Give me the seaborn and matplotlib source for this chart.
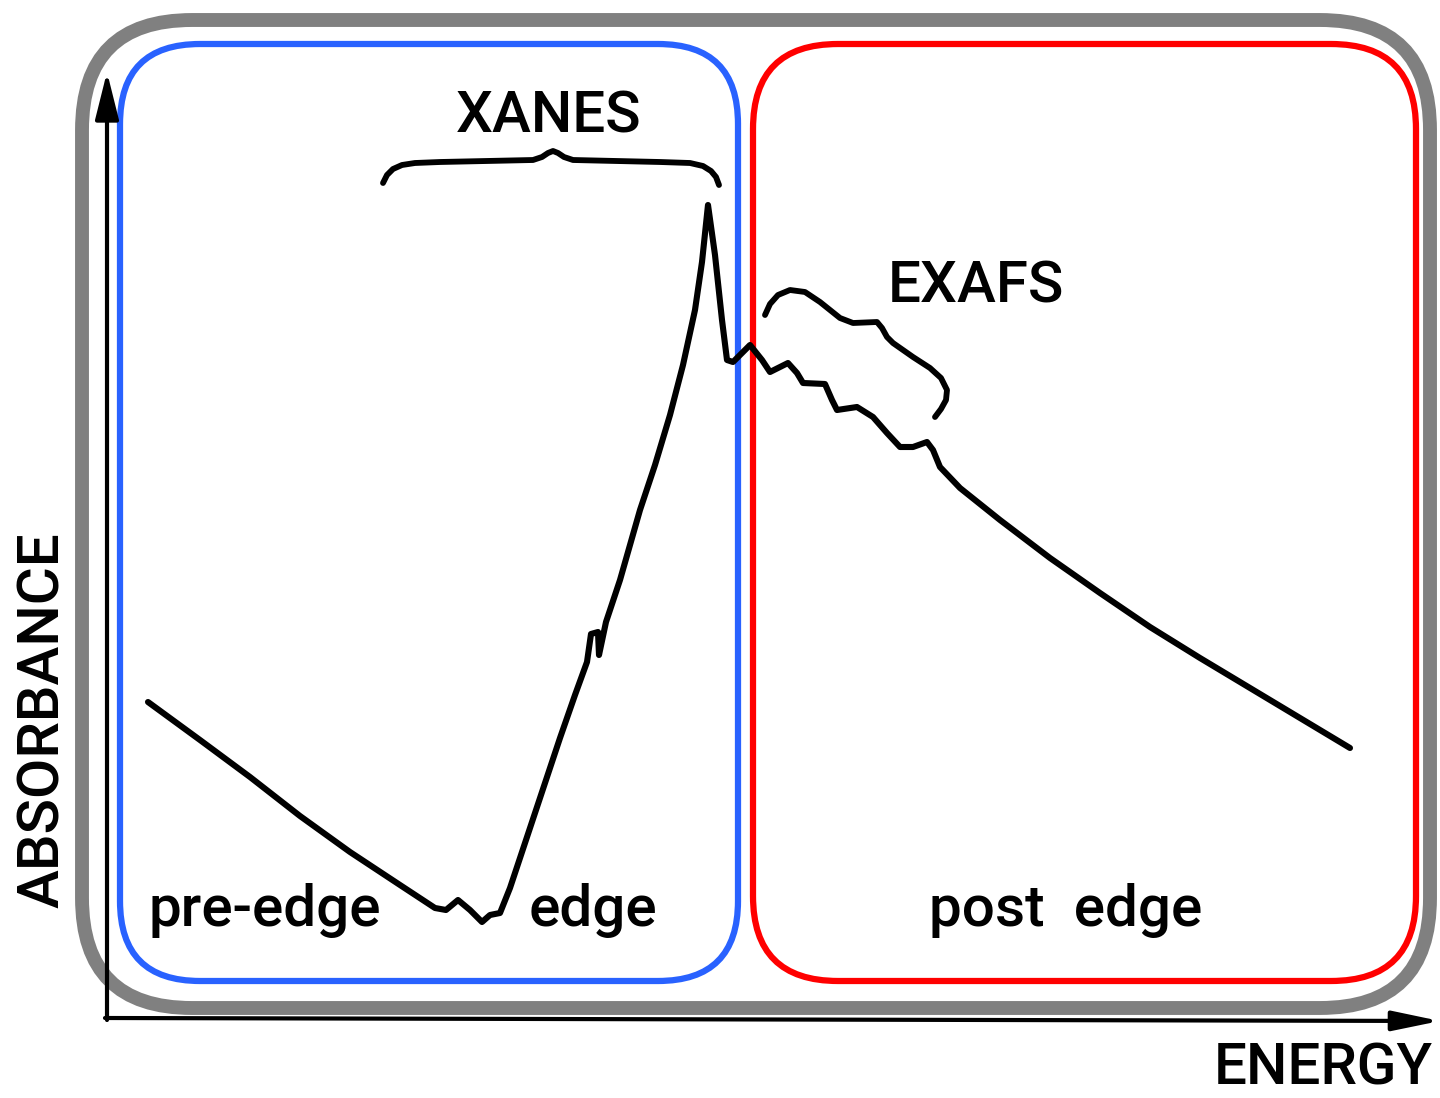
import numpy as np
import pandas as pd
import matplotlib
matplotlib.use('Agg')
import matplotlib.pyplot as plt
from matplotlib.patches import FancyBboxPatch
import seaborn as sns

sns.set_theme(style='white')
plt.rcParams['font.family'] = ['Roboto', 'DejaVu Sans']

# 스펙트럼 곡선 (그림 좌표, y는 아래쪽이 +)
curve_x = [148, 200, 250, 300, 350, 400, 435, 446, 458, 470, 482, 490, 500, 510,
           520, 530, 545, 560, 575, 587, 591, 598, 599, 606, 620, 640, 655, 670,
           683, 695, 702, 708, 715, 722, 727, 733, 750, 762, 770, 788,
           797, 803, 825, 832, 837, 857, 873, 887, 900, 913, 927, 933, 940, 960,
           1000, 1050, 1100, 1150, 1200, 1270, 1350]
curve_y = [702, 740, 777, 816, 852, 885, 908, 910, 900, 910, 922, 915, 913, 888,
           858, 828, 783, 738, 695, 662, 634, 632, 655, 622, 580, 510, 465, 415,
           365, 310, 262, 205, 255, 320, 360, 362, 345, 360, 372, 363,
           373, 383, 384, 400, 410, 407, 417, 433, 447, 447, 442, 450, 467, 488,
           520, 558, 593, 627, 658, 700, 748]

# 괄호 (XANES / EXAFS)
xanes_x = [383, 387, 393, 402, 415, 440, 533, 542, 548, 553, 558, 564, 573, 660,
           690, 703, 711, 716, 719]
xanes_y = [183, 175, 169, 165, 163, 162, 160, 157, 153, 151, 153, 157, 160, 162,
           163, 166, 171, 177, 185]
exafs_x = [765, 770, 778, 790, 805, 820, 840, 853, 877, 882, 887, 893, 913, 930,
           941, 947, 946, 941, 935]
exafs_y = [315, 304, 295, 290, 292, 302, 318, 323, 322, 328, 337, 343, 357, 368,
           378, 390, 400, 409, 417]

# 영역 박스: (x0, y0, x1, y1, 색, 선두께, 모서리)
boxes = [
    (82, 20, 1430, 1008, '#808080', 10, 110),
    (120, 44, 738, 981, '#2962ff', 4.5, 80),
    (753, 44, 1416, 981, '#ff0000', 4.5, 85),
]

labels = ['XANES', 'EXAFS', 'pre-edge', 'edge', 'post  edge', 'ENERGY']
label_xy = [(549, 117), (976, 287), (265, 910), (593, 910), (1066, 910), (1323, 1069)]

fig = plt.figure(figsize=(14.4, 10.98), dpi=100)
ax = fig.add_axes([0, 0, 1, 1])

for x0, y0, x1, y1, c, lw, r in boxes:
    ax.add_patch(FancyBboxPatch((x0, y0), x1 - x0, y1 - y0,
                                boxstyle=f'round,pad=0,rounding_size={r}',
                                fill=False, ec=c, lw=lw, zorder=2))

# 축 화살표
ax.annotate('', xy=(107, 72), xytext=(107, 1020),
            arrowprops=dict(arrowstyle='-|>,head_length=2.4,head_width=0.6',
                            lw=3, color='black', shrinkA=0, shrinkB=0), zorder=3)
ax.annotate('', xy=(1440, 1021), xytext=(105, 1018),
            arrowprops=dict(arrowstyle='-|>,head_length=2.4,head_width=0.5',
                            lw=3, color='black', shrinkA=0, shrinkB=0), zorder=3)

df = pd.DataFrame({'x': curve_x, 'y': curve_y})
sns.lineplot(data=df, x='x', y='y', sort=False, estimator=None, color='black',
             lw=4.4, ax=ax, zorder=4)
sns.lineplot(x=xanes_x, y=xanes_y, sort=False, estimator=None, color='black',
             lw=4.2, ax=ax, zorder=4)
sns.lineplot(x=exafs_x, y=exafs_y, sort=False, estimator=None, color='black',
             lw=4.2, ax=ax, zorder=4)
ax.set_xlim(0, 1440)
ax.set_ylim(1098, 0)
ax.axis('off')

for t, (x, y) in zip(labels, label_xy):
    ax.text(x, y, t, fontsize=42, ha='center', va='center', color='black',
            fontweight='medium', zorder=5)
ax.text(43, 720, 'ABSORBANCE', fontsize=42, rotation=90, ha='center', va='center',
        color='black', fontweight='medium', zorder=5)

plt.savefig('out.png', dpi=100)
